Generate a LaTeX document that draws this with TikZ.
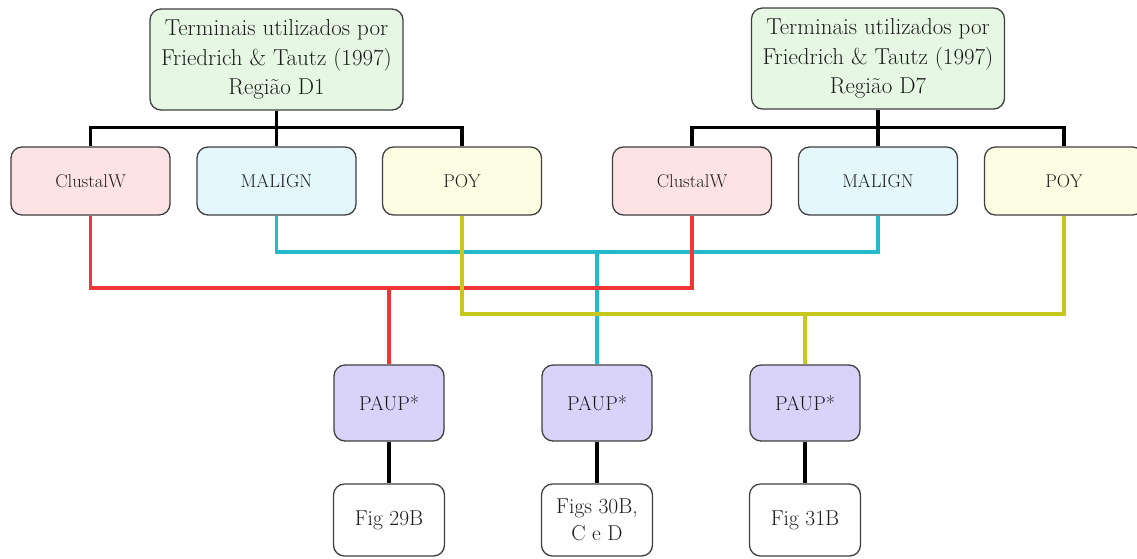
\documentclass[tikz,border=0pt]{standalone}
\usepackage{fontspec}
\definecolor{bordc}{HTML}{404040}
\definecolor{txtc}{HTML}{1C1C1C}
\definecolor{topfill}{HTML}{E6F8E4}
\definecolor{clfill}{HTML}{FDE3E3}
\definecolor{mafill}{HTML}{E3F7FC}
\definecolor{poyfill}{HTML}{FDFDE4}
\definecolor{paupfill}{HTML}{D9D3FA}
\definecolor{redl}{HTML}{F23535}
\definecolor{cyanl}{HTML}{22BBCC}
\definecolor{yell}{HTML}{C6C81E}
\tikzset{
  box/.style={draw=bordc, line width=1.3pt, rounded corners=11pt, inner sep=0pt, align=center, text=txtc},
  topbox/.style={box, fill=topfill, minimum width=253pt, minimum height=101pt, font=\fontsize{23}{29.5}\selectfont},
  midbox/.style={box, minimum width=159pt, minimum height=68pt, font=\fontsize{18.5}{20}\selectfont},
  paupbox/.style={box, fill=paupfill, minimum width=110pt, minimum height=76pt, font=\fontsize{20}{26}\selectfont},
  figbox/.style={box, fill=white, minimum width=111pt, minimum height=72pt, font=\fontsize{21.5}{27}\selectfont},
  blk/.style={draw=black, line width=3.6pt},
  redw/.style={draw=redl, line width=3.6pt},
  cyanw/.style={draw=cyanl, line width=3.6pt},
  yelw/.style={draw=yell, line width=3.6pt}
}
\begin{document}
\begin{tikzpicture}[x=1pt, y=-1pt]
\clip (0,0) rectangle (1137,558);
\fill[white] (0,0) rectangle (1137,558);
% top boxes
\node[topbox] (T1) at (276.5,59.5) {Terminais utilizados por\\Friedrich \& Tautz (1997)\\Região D1};
\node[topbox] (T2) at (878,58.5) {Terminais utilizados por\\Friedrich \& Tautz (1997)\\Região D7};
% second row
\node[midbox, fill=clfill] (C1) at (90.5,181) {ClustalW};
\node[midbox, fill=mafill] (M1) at (276.5,181) {MALIGN};
\node[midbox, fill=poyfill] (P1) at (462,181) {POY};
\node[midbox, fill=clfill] (C2) at (692,181) {ClustalW};
\node[midbox, fill=mafill] (M2) at (878,181) {MALIGN};
\node[midbox, fill=poyfill] (P2) at (1064,181) {POY};
% PAUP boxes
\node[paupbox] (A1) at (389,403) {PAUP*};
\node[paupbox] (A2) at (597,403) {PAUP*};
\node[paupbox] (A3) at (805,403) {PAUP*};
% figure boxes
\node[figbox] (F1) at (389,520) {Fig 29B};
\node[figbox] (F2) at (597,520) {Figs 30B,\\C e D};
\node[figbox] (F3) at (805,520) {Fig 31B};
% junction coordinates
\coordinate (rj) at (389,288);
\coordinate (cj) at (597,252);
\coordinate (yj) at (805,314);
% black tree
\draw[blk] (T1.south) -- (M1.north);
\draw[blk] (C1.north) -- ++(0,-19) -| (P1.north);
\draw[blk] (T2.south) -- (M2.north);
\draw[blk] (C2.north) -- ++(0,-19) -| (P2.north);
% coloured connectors
\draw[cyanw] (M1.south) |- (cj) -| (M2.south);
\draw[cyanw] (cj) -- (A2.north);
\draw[redw] (C1.south) |- (rj) -| (C2.south);
\draw[redw] (rj) -- (A1.north);
\draw[yelw] (P1.south) |- (yj) -| (P2.south);
\draw[yelw] (yj) -- (A3.north);
% PAUP to figures
\draw[blk] (A1.south) -- (F1.north);
\draw[blk] (A2.south) -- (F2.north);
\draw[blk] (A3.south) -- (F3.north);
\end{tikzpicture}
\end{document}
